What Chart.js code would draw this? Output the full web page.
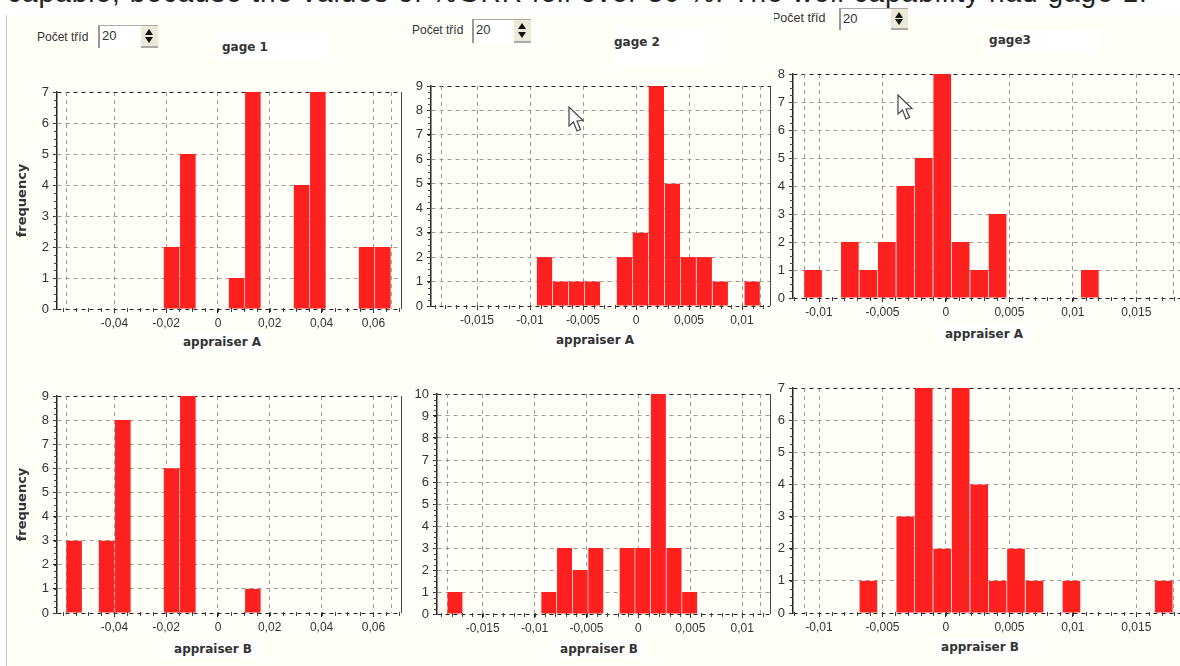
<!DOCTYPE html>
<html>
<head>
<meta charset="utf-8">
<title>Gage capability histograms</title>
<script src="https://cdn.jsdelivr.net/npm/chart.js@4"></script>
<style>
  html, body { margin: 0; background: #fff; overflow: hidden; width: 1180px; height: 666px; }
  #stage { position: relative; width: 1180px; height: 666px; overflow: hidden; font-family: "Liberation Sans", Arial, sans-serif; }
  #sentence { position: absolute; left: 7px; top: -22px; font-size: 28px; letter-spacing: 1px; line-height: 30px; color: #222; white-space: nowrap; }
  #paper { position: absolute; left: 6px; top: 15px; right: 0; bottom: 0; background: #fffff8; border-left: 1px solid #c8c8c8; }
  canvas { position: absolute; }
  .patch { position: absolute; background: #fff; }
  .head, .xlabel { position: absolute; font: bold 12px "DejaVu Sans", sans-serif; color: #333; transform: translate(-50%, -50%); white-space: nowrap; }
  .xlabel { background: #fff; padding: 2px 6px; }
  .classes { position: absolute; font-size: 12px; line-height: 14px; color: #333; white-space: nowrap; }
  .box { position: absolute; background: #fff; border-left: 2px solid #999; border-top: 1px solid #aaa; color: #333; font-size: 13px; box-sizing: border-box; padding: 2px 0 0 2px; }
  .spin { position: absolute; right: 0; top: 0; bottom: 0; width: 17px; background: #ece9d8; border-bottom: 2px solid #aaa; box-sizing: border-box; }
  .spin i { position: absolute; left: 4px; width: 0; height: 0; border-left: 4px solid transparent; border-right: 4px solid transparent; }
  .spin i.up { top: 3px; border-bottom: 6px solid #111; }
  .spin i.down { bottom: 3px; border-top: 6px solid #111; }
  svg.cursor { position: absolute; }
</style>
</head>
<body>
<div id="stage">
  <div id="paper"></div>
  <div id="sentence">capable, because the values of %GRR fell over 30 %. The well capability had gage 1.</div>
</div>
<script>
// === histogram classes (bin centres) and frequencies ===
const gage1Classes = [-0.05556, -0.04929, -0.04301, -0.03674, -0.03046, -0.02419, -0.01791, -0.01164, -0.00536, 0.00091,
                      0.00719, 0.01346, 0.01974, 0.02601, 0.03229, 0.03856, 0.04484, 0.05111, 0.05739, 0.06366];
const gage2Classes = [-0.01767, -0.01616, -0.01465, -0.01315, -0.01164, -0.01013, -0.00863, -0.00712, -0.00561, -0.00411,
                      -0.0026, -0.00109, 0.00041, 0.00192, 0.00343, 0.00493, 0.00644, 0.00795, 0.00945, 0.01096];
const gage3Classes = [-0.01047, -0.00902, -0.00757, -0.00611, -0.00466, -0.0032, -0.00175, -0.00029, 0.00116, 0.00262,
                      0.00407, 0.00552, 0.00698, 0.00843, 0.00989, 0.01134, 0.0128, 0.01425, 0.01571, 0.01716];

const gage1A = [0, 0, 0, 0, 0, 0, 2, 5, 0, 0, 1, 7, 0, 0, 4, 7, 0, 0, 2, 2];
const gage1B = [3, 0, 3, 8, 0, 0, 6, 9, 0, 0, 0, 1, 0, 0, 0, 0, 0, 0, 0, 0];
const gage2A = [0, 0, 0, 0, 0, 0, 2, 1, 1, 1, 0, 2, 3, 9, 5, 2, 2, 1, 0, 1];
const gage2B = [1, 0, 0, 0, 0, 0, 1, 3, 2, 3, 0, 3, 3, 10, 3, 1, 0, 0, 0, 0];
const gage3A = [1, 0, 2, 1, 2, 4, 5, 8, 2, 1, 3, 0, 0, 0, 0, 1, 0, 0, 0, 0];
const gage3B = [0, 0, 0, 1, 0, 3, 7, 2, 7, 4, 1, 2, 1, 0, 1, 0, 0, 0, 0, 1];

const gage1Ticks = [-0.04, -0.02, 0, 0.02, 0.04, 0.06];
const gage2Ticks = [-0.015, -0.01, -0.005, 0, 0.005, 0.01];
const gage3Ticks = [-0.01, -0.005, 0, 0.005, 0.01, 0.015];

// outer edges of the first and last class, the picture has a grid line there too
const gage1Edges = [-0.0587, 0.0668];
const gage2Edges = [-0.01842, 0.0117];
const gage3Edges = [-0.0112, 0.01787];

// === panels: plot rectangle in page pixels plus axis range ===
const panels = [
  { classes: gage1Classes, values: gage1A, ticks: gage1Ticks, edges: gage1Edges, xMin: -0.06216, xMax: 0.07066, xMinor: 0.005, yMax: 7,
    left: 57, right: 401, top: 92, bottom: 309, yTitle: 'frequency', xLabel: 'appraiser A', labelX: 222, labelY: 342 },
  { classes: gage1Classes, values: gage1B, ticks: gage1Ticks, edges: gage1Edges, xMin: -0.06216, xMax: 0.07066, xMinor: 0.005, yMax: 9,
    left: 57, right: 401, top: 396, bottom: 613, yTitle: 'frequency', xLabel: 'appraiser B', labelX: 213, labelY: 649 },
  { classes: gage2Classes, values: gage2A, ticks: gage2Ticks, edges: gage2Edges, xMin: -0.01934, xMax: 0.01264, xMinor: 0.001, yMax: 9,
    left: 431, right: 770, top: 86, bottom: 306, xLabel: 'appraiser A', labelX: 595, labelY: 340 },
  { classes: gage2Classes, values: gage2B, ticks: gage2Ticks, edges: gage2Edges, xMin: -0.0194, xMax: 0.01267, xMinor: 0.001, yMax: 10,
    left: 437, right: 770, top: 394, bottom: 614, xLabel: 'appraiser B', labelX: 599, labelY: 649 },
  { classes: gage3Classes, values: gage3A, ticks: gage3Ticks, edges: gage3Edges, xMin: -0.01205, xMax: 0.0186, xMinor: 0.001, yMax: 8,
    left: 793, right: 1182, top: 74, bottom: 298, xLabel: 'appraiser A', labelX: 984, labelY: 334 },
  { classes: gage3Classes, values: gage3B, ticks: gage3Ticks, edges: gage3Edges, xMin: -0.01205, xMax: 0.0186, xMinor: 0.001, yMax: 7,
    left: 793, right: 1182, top: 388, bottom: 613, xLabel: 'appraiser B', labelX: 980, labelY: 647 }
];

const heads = [
  { text: 'gage 1', x: 245, y: 47, patch: [218, 33, 112, 27] },
  { text: 'gage 2', x: 637, y: 42, patch: [613, 27, 92, 38] },
  { text: 'gage3', x: 1010, y: 40, patch: [987, 30, 113, 23] }
];

const spinners = [
  { label: 37, labelY: 30, box: 98, top: 25, width: 60, height: 23, clip: 0 },
  { label: 412, labelY: 23, box: 472, top: 19, width: 59, height: 24, clip: 0 },
  { label: 772, labelY: 11, box: 839, top: 8, width: 69, height: 22, clip: 2 }
];

const cursors = [[569, 107], [898, 95]];

const AXIS_COLOR = '#222';
const GRID_COLOR = '#9c9c92';
const BAR_COLOR = '#ff2020';
const stage = document.getElementById('stage');

// class edge grid lines live here and not in scale.ticks: Chart.js sizes bars from
// the smallest gap between ticks, and an edge tick would make the bars too thin
const plotExtras = {
  id: 'plotExtras',
  beforeDatasetsDraw(chart, args, opts) {
    const { ctx, chartArea: area, scales: { x } } = chart;
    ctx.save();
    ctx.strokeStyle = GRID_COLOR;
    ctx.setLineDash([4, 4]);
    ctx.beginPath();
    opts.edges.forEach(edge => {
      const px = Math.round(x.getPixelForValue(edge)) + 0.5;
      ctx.moveTo(px, area.top);
      ctx.lineTo(px, area.bottom);
    });
    ctx.stroke();
    ctx.restore();
  },
  // small unlabeled ticks along both axes, and the closing line on the right of the plot
  afterDraw(chart, args, opts) {
    const { ctx, chartArea: area, scales: { x, y } } = chart;
    ctx.save();
    ctx.strokeStyle = '#444';
    ctx.lineWidth = 1;
    ctx.beginPath();
    for (let n = Math.ceil(x.min / opts.xStep); n * opts.xStep <= x.max; n++) {
      const px = Math.round(x.getPixelForValue(n * opts.xStep)) + 0.5;
      ctx.moveTo(px, area.bottom - 1);
      ctx.lineTo(px, area.bottom + 3);
    }
    for (let n = 0; n <= y.max * 4; n++) {
      const py = Math.round(y.getPixelForValue(n / 4)) + 0.5;
      ctx.moveTo(area.left - 3, py);
      ctx.lineTo(area.left, py);
    }
    ctx.moveTo(area.right + 0.5, area.top);
    ctx.lineTo(area.right + 0.5, area.bottom);
    ctx.stroke();
    ctx.restore();
  }
};

function addDiv(className, text, css) {
  const el = document.createElement('div');
  el.className = className;
  if (text) el.textContent = text;
  Object.assign(el.style, css);
  stage.appendChild(el);
  return el;
}

heads.forEach(h => {
  const [x, y, w, ht] = h.patch;
  addDiv('patch', '', { left: x + 'px', top: y + 'px', width: w + 'px', height: ht + 'px' });
  addDiv('head', h.text, { left: h.x + 'px', top: h.y + 'px' });
});

spinners.forEach(s => {
  const label = addDiv('classes', 'Počet tříd', { left: s.label + 'px', top: s.labelY + 'px', clipPath: `inset(0 0 0 ${s.clip}px)` });
  label.style.fontSize = s.clip ? '12.5px' : '12px';
  const box = addDiv('box', '20', { left: s.box + 'px', top: s.top + 'px', width: s.width + 'px', height: s.height + 'px' });
  const spin = document.createElement('div');
  spin.className = 'spin';
  spin.innerHTML = '<i class="up"></i><i class="down"></i>';
  box.appendChild(spin);
});

panels.forEach(p => {
  const padTop = 8, padRight = 8, axisLeft = p.yTitle ? p.left : 28, axisBottom = 26;
  const canvas = document.createElement('canvas');
  const width = axisLeft + (p.right - p.left) + padRight;
  const height = padTop + (p.bottom - p.top) + axisBottom;
  canvas.width = width;
  canvas.height = height;
  canvas.style.left = (p.left - axisLeft) + 'px';
  canvas.style.top = (p.top - padTop) + 'px';
  stage.appendChild(canvas);

  addDiv('xlabel', p.xLabel, { left: p.labelX + 'px', top: p.labelY + 'px' });

  new Chart(canvas.getContext('2d'), {
    type: 'bar',
    data: {
      datasets: [{
        data: p.classes.map((c, i) => ({ x: c, y: p.values[i] })),
        backgroundColor: BAR_COLOR,
        barPercentage: 0.96,
        categoryPercentage: 1
      }]
    },
    plugins: [plotExtras],
    options: {
      responsive: false,
      animation: false,
      layout: { padding: { top: padTop, right: padRight, left: 0, bottom: 0 } },
      plugins: {
        legend: { display: false },
        title: { display: false },
        plotExtras: { xStep: p.xMinor, edges: p.edges }
      },
      scales: {
        x: {
          type: 'linear',
          offset: false,
          min: p.xMin,
          max: p.xMax,
          afterBuildTicks: scale => {
            scale.ticks = p.ticks.map(value => ({ value }));
          },
          afterFit: scale => {
            scale.height = axisBottom;
            scale.paddingLeft = 0;
            scale.paddingRight = 0;
          },
          grid: {
            offset: false,
            color: GRID_COLOR,
            tickColor: AXIS_COLOR,
            tickLength: 4
          },
          border: { display: false, dash: [4, 4] },
          ticks: {
            autoSkip: false,
            maxRotation: 0,
            padding: 3,
            color: '#333',
            font: { family: '"Liberation Sans", Arial, sans-serif', size: 12 },
            callback: value => String(value).replace('.', ',')
          }
        },
        y: {
          min: 0,
          max: p.yMax,
          afterFit: scale => {
            scale.width = axisLeft;
            scale.paddingTop = 0;
            scale.paddingBottom = 0;
          },
          title: p.yTitle ? {
            display: true,
            text: p.yTitle,
            color: '#333',
            padding: { top: 15, bottom: 0 },
            font: { family: '"DejaVu Sans", sans-serif', size: 13, weight: 'bold' }
          } : { display: false },
          grid: {
            color: ctx => (ctx.tick.value === 0 || ctx.tick.value === p.yMax ? '#222' : GRID_COLOR),
            tickColor: AXIS_COLOR,
            tickLength: 4
          },
          border: { display: true, color: AXIS_COLOR, width: 1.5, dash: [4, 4] },
          ticks: {
            stepSize: 1,
            autoSkip: false,
            padding: 4,
            color: '#333',
            font: { family: '"Liberation Sans", Arial, sans-serif', size: 13 }
          }
        }
      }
    }
  });
});

// the two mouse pointers caught in the screenshot
cursors.forEach(([x, y]) => {
  const svg = document.createElementNS('http://www.w3.org/2000/svg', 'svg');
  svg.setAttribute('class', 'cursor');
  svg.setAttribute('width', '18');
  svg.setAttribute('height', '28');
  svg.style.left = (x - 1) + 'px';
  svg.style.top = (y - 1) + 'px';
  svg.innerHTML = '<path d="M1 1 L1 20 L5.5 16 L9 25 L12.5 23.5 L9 15 L15 14.5 Z" fill="#fff" stroke="#444" stroke-width="1.2"/>';
  stage.appendChild(svg);
});
</script>
</body>
</html>
